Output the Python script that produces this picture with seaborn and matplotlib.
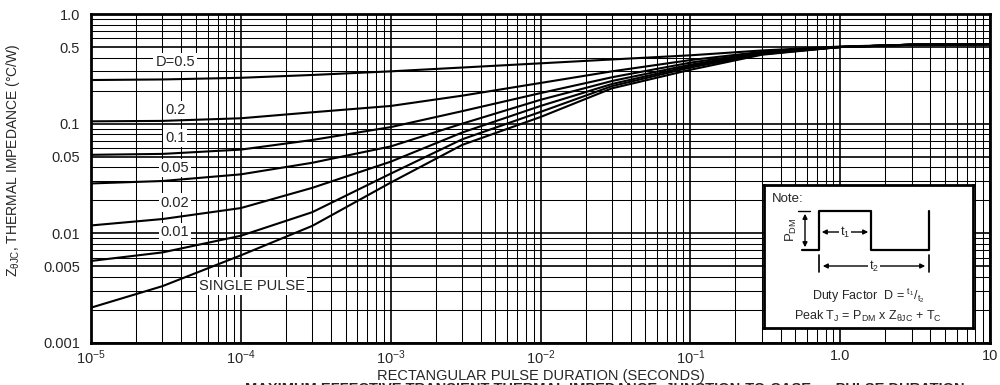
import numpy as np
import pandas as pd
import matplotlib
matplotlib.use("Agg")
import matplotlib.pyplot as plt
from matplotlib.ticker import LogLocator, NullFormatter
import seaborn as sns

# pulse duration (s) and Z_thetaJC (C/W)
durations = [1e-5, 3e-5, 1e-4, 3e-4, 1e-3, 3e-3, 1e-2, 3e-2, 1e-1, 3e-1, 1.0, 3.0, 10.0]
z_d050 = [0.250, 0.253, 0.262, 0.278, 0.300, 0.325, 0.355, 0.385, 0.420, 0.465, 0.505, 0.525, 0.530]
z_d020 = [0.105, 0.106, 0.112, 0.127, 0.145, 0.180, 0.235, 0.300, 0.380, 0.452, 0.500, 0.525, 0.530]
z_d010 = [0.052, 0.053, 0.058, 0.071, 0.093, 0.130, 0.190, 0.265, 0.360, 0.445, 0.500, 0.525, 0.530]
z_d005 = [0.0285, 0.030, 0.0345, 0.044, 0.062, 0.100, 0.165, 0.245, 0.345, 0.440, 0.500, 0.525, 0.530]
z_d002 = [0.0118, 0.0135, 0.017, 0.026, 0.045, 0.083, 0.145, 0.230, 0.335, 0.435, 0.500, 0.525, 0.530]
z_d001 = [0.0056, 0.0067, 0.0095, 0.0156, 0.035, 0.072, 0.128, 0.220, 0.325, 0.430, 0.500, 0.525, 0.530]
z_single = [0.0021, 0.0033, 0.0063, 0.0117, 0.029, 0.064, 0.115, 0.210, 0.310, 0.425, 0.500, 0.525, 0.530]

curve_names = ["D=0.5", "0.2", "0.1", "0.05", "0.02", "0.01", "SINGLE PULSE"]
x_ticks = [1e-5, 1e-4, 1e-3, 1e-2, 1e-1, 1.0, 10.0]
x_ticklabels = ["$10^{-5}$", "$10^{-4}$", "$10^{-3}$", "$10^{-2}$", "$10^{-1}$", "1.0", "10"]
y_ticks = [0.001, 0.005, 0.01, 0.05, 0.1, 0.5, 1.0]
y_ticklabels = ["0.001", "0.005", "0.01", "0.05", "0.1", "0.5", "1.0"]

sns.set_theme(style="white")
plt.rcParams["font.family"] = ["Liberation Sans", "DejaVu Sans"]
plt.rcParams["mathtext.default"] = "regular"

all_z = [z_d050, z_d020, z_d010, z_d005, z_d002, z_d001, z_single]
df = pd.concat([pd.DataFrame({"duration": durations, "z": z, "curve": name})
                for name, z in zip(curve_names, all_z)], ignore_index=True)

fig = plt.figure(figsize=(10, 3.85), dpi=100)
ax = fig.add_axes([0.091, 1 - 343 / 385, 0.899, 329 / 385])

sns.lineplot(data=df, x="duration", y="z", hue="curve", palette=["black"] * 7,
             legend=False, ax=ax, linewidth=1.5, zorder=3)

ax.set_xscale("log")
ax.set_yscale("log")
ax.set_xlim(1e-5, 10)
ax.set_ylim(1e-3, 1.0)

ax.set_xticks(x_ticks)
ax.set_xticklabels(x_ticklabels, fontsize=10.5)
ax.set_yticks(y_ticks)
ax.set_yticklabels(y_ticklabels, fontsize=10.5)
ax.xaxis.set_minor_locator(LogLocator(base=10, subs=np.arange(2, 10), numticks=100))
ax.yaxis.set_minor_locator(LogLocator(base=10, subs=np.arange(2, 10), numticks=100))
ax.xaxis.set_minor_formatter(NullFormatter())
ax.yaxis.set_minor_formatter(NullFormatter())
ax.tick_params(which="both", length=0)
ax.tick_params(axis="y", pad=8)
ax.tick_params(axis="x", pad=4)

ax.grid(which="major", color="black", linewidth=1.2)
ax.grid(which="minor", color="black", linewidth=0.75)
for s in ax.spines.values():
    s.set_color("black")
    s.set_linewidth(2)

ax.set_xlabel("RECTANGULAR PULSE DURATION (SECONDS)", fontsize=10.5)
ax.xaxis.set_label_coords(0.5, -0.079)
ax.set_ylabel("$Z_{\\theta JC}$, THERMAL IMPEDANCE (°C/W)", fontsize=10)
ax.yaxis.set_label_coords(-0.077, 0.555)

# curve labels
lab_box = dict(facecolor="white", edgecolor="none", pad=1.5)
for name, y in zip(curve_names[:-1], [0.366, 0.134, 0.0741, 0.0397, 0.0191, 0.0102]):
    ax.text(3.64e-5, y, name, ha="center", va="center", fontsize=10.5, bbox=lab_box, zorder=2.5)
ax.text(1.19e-4, 0.00328, curve_names[-1], ha="center", va="center", fontsize=10.5,
        bbox=lab_box, zorder=2.5)

# note box (drawn in pixel-like coordinates)
nx0, nx1, ny0, ny1 = 764, 973, 185, 328
nax = fig.add_axes([nx0 / 1000, 1 - ny1 / 385, (nx1 - nx0) / 1000, (ny1 - ny0) / 385])
nax.set_xlim(nx0, nx1)
nax.set_ylim(ny1, ny0)
nax.set_xticks([])
nax.set_yticks([])
nax.set_facecolor("white")
for s in nax.spines.values():
    s.set_color("black")
    s.set_linewidth(2)

nax.text(772, 199, "Note:", fontsize=9.5, va="center", ha="left")
nax.plot([802, 819, 819, 871, 871, 929, 929], [250, 250, 211, 211, 250, 250, 211],
         color="black", lw=1.6)
nax.plot([798, 810], [211, 211], color="black", lw=1)
nax.annotate("", xy=(805, 211), xytext=(805, 250),
             arrowprops=dict(arrowstyle="<|-|>", color="black", lw=1, mutation_scale=7))
nax.text(791, 230, "P$_{DM}$", rotation=90, fontsize=9.5, ha="center", va="center")
nax.annotate("", xy=(819, 232), xytext=(871, 232),
             arrowprops=dict(arrowstyle="<|-|>", color="black", lw=1, mutation_scale=7))
nax.text(845, 232, "t$_1$", fontsize=9, ha="center", va="center",
         bbox=dict(facecolor="white", edgecolor="none", pad=0.5))
nax.plot([819, 819], [255, 272], color="black", lw=1.2)
nax.plot([929, 929], [255, 272], color="black", lw=1.2)
nax.annotate("", xy=(820, 266), xytext=(928, 266),
             arrowprops=dict(arrowstyle="<|-|>", color="black", lw=1, mutation_scale=7))
nax.text(874, 266, "t$_2$", fontsize=9, ha="center", va="center",
         bbox=dict(facecolor="white", edgecolor="none", pad=0.5))
nax.text(868, 296, "Duty Factor  D = $^{t_1}/_{t_2}$", fontsize=9, ha="center", va="center")
nax.text(868, 316, "Peak T$_J$ = P$_{DM}$ x Z$_{\\theta JC}$ + T$_C$", fontsize=9,
         ha="center", va="center")

fig.text(0.245, 0.008, "MAXIMUM EFFECTIVE TRANSIENT THERMAL IMPEDANCE, JUNCTION-TO-CASE vs PULSE DURATION",
         fontsize=10.5, fontweight="bold", ha="left", va="top")

fig.savefig("out.png", dpi=100, facecolor="white")
